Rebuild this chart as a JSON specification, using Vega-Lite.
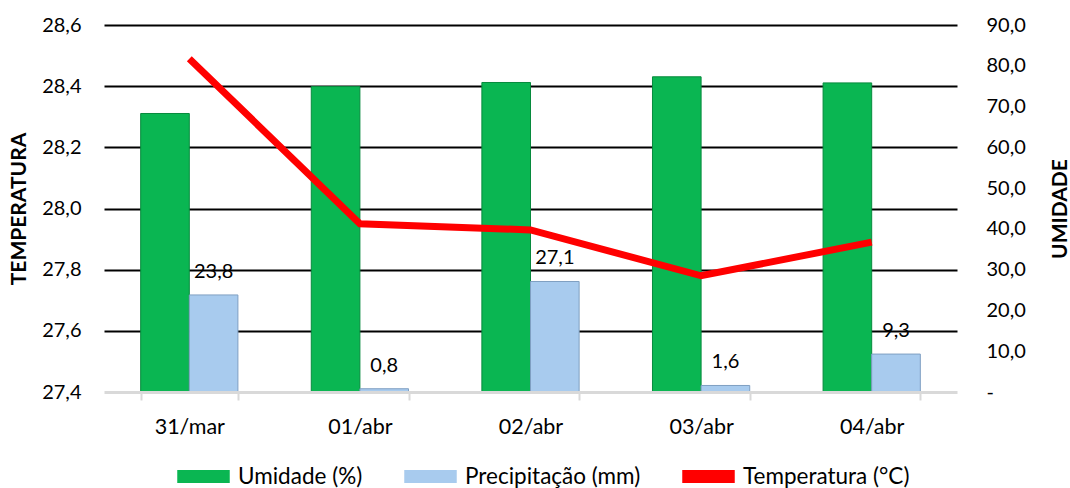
{
  "$schema": "https://vega.github.io/schema/vega-lite/v6.json",
  "autosize": {"type": "none"},
  "width": 853,
  "height": 367,
  "padding": {"left": 104, "top": 25, "right": 113, "bottom": 96},
  "background": "white",
  "config": {
    "font": "Lato",
    "view": {"stroke": null},
    "locale": {"number": {"decimal": ",", "thousands": ".", "grouping": [3], "currency": ["R$", ""]}},
    "axis": {"labelFont": "Lato", "labelFontSize": 20, "labelColor": "#000000", "titleFont": "Lato", "titleColor": "#000000"}
  },
  "data": {
    "values": [
      {"dia": "31/mar", "umidade": 68.3, "precipitacao": 23.8, "temperatura": 28.49},
      {"dia": "01/abr", "umidade": 74.9, "precipitacao": 0.8, "temperatura": 27.95},
      {"dia": "02/abr", "umidade": 75.9, "precipitacao": 27.1, "temperatura": 27.93},
      {"dia": "03/abr", "umidade": 77.3, "precipitacao": 1.6, "temperatura": 27.78},
      {"dia": "04/abr", "umidade": 75.8, "precipitacao": 9.3, "temperatura": 27.89}
    ]
  },
  "encoding": {
    "x": {
      "field": "dia",
      "type": "nominal",
      "sort": null,
      "scale": {"paddingInner": 0.43, "paddingOuter": 0.215},
      "axis": {
        "title": null,
        "labelAngle": 0,
        "labelFontSize": 21.5,
        "domainColor": "#d9d9d9",
        "domainWidth": 3,
        "ticks": true,
        "tickBand": "extent",
        "tickColor": "#d9d9d9",
        "tickWidth": 2,
        "tickSize": 8,
        "labelPadding": 16,
        "zindex": 1
      }
    }
  },
  "layer": [
    {
      "transform": [
        {"fold": ["umidade", "precipitacao"], "as": ["chave", "valor"]},
        {"lookup": "chave", "from": {"data": {"values": [
          {"chave": "umidade", "serie": "Umidade (%)"},
          {"chave": "precipitacao", "serie": "Precipitação (mm)"}
        ]}, "key": "chave", "fields": ["serie"]}}
      ],
      "encoding": {
        "y": {
          "field": "valor",
          "type": "quantitative",
          "scale": {"domain": [0, 90], "nice": false, "zero": true},
          "axis": {
            "orient": "right",
            "title": "UMIDADE",
            "titleFontSize": 21,
            "titleFontWeight": "bold",
            "titleAngle": 270,
            "titlePadding": 45,
            "values": [0, 10, 20, 30, 40, 50, 60, 70, 80, 90],
            "format": ".1f",
            "labelExpr": "datum.value == 0 ? '-' : datum.label",
            "labelAlign": "left",
            "labelPadding": 29,
            "ticks": false,
            "domain": false,
            "grid": false
          }
        },
        "xOffset": {
          "field": "serie",
          "type": "nominal",
          "scale": {"domain": ["Umidade (%)", "Precipitação (mm)"], "paddingInner": 0, "paddingOuter": 0}
        }
      },
      "layer": [
        {
          "mark": {"type": "bar", "strokeWidth": 1},
          "encoding": {
            "color": {
              "field": "serie",
              "type": "nominal",
              "scale": {
                "domain": ["Umidade (%)", "Precipitação (mm)", "Temperatura (°C)"],
                "range": ["#0ab652", "#a8cbee", "#ff0000"]
              },
              "legend": {
                "title": null,
                "orient": "none",
                "direction": "horizontal",
                "legendX": 73,
                "legendY": 425,
                "symbolType": "M-1,-0.25H1V0.25H-1Z",
                "symbolSize": 2756,
                "symbolStrokeWidth": 0,
                "symbolOpacity": 1,
                "labelFont": "Lato",
                "labelFontSize": 22.5,
                "labelColor": "#000000",
                "labelOffset": 8,
                "columnPadding": 41,
                "labelLimit": 300
              }
            },
            "stroke": {
              "field": "serie",
              "type": "nominal",
              "scale": {"domain": ["Umidade (%)", "Precipitação (mm)"], "range": ["#078a3d", "#7f9fc2"]},
              "legend": null
            }
          }
        },
        {
          "transform": [{"filter": "datum.chave == 'precipitacao'"}],
          "mark": {"type": "text", "fontSize": 20, "font": "Lato", "color": "#000000", "baseline": "alphabetic", "dy": -17},
          "encoding": {
            "text": {"field": "valor", "type": "quantitative", "format": ".1f"}
          }
        }
      ]
    },
    {
      "mark": {"type": "line", "strokeWidth": 7, "strokeCap": "butt"},
      "encoding": {
        "y": {
          "field": "temperatura",
          "type": "quantitative",
          "scale": {"domain": [27.4, 28.6], "nice": false, "zero": false},
          "axis": {
            "orient": "left",
            "title": "TEMPERATURA",
            "titleFontSize": 21,
            "titleFontWeight": "bold",
            "titlePadding": 12,
            "values": [27.4, 27.6, 27.8, 28.0, 28.2, 28.4, 28.6],
            "format": ".1f",
            "labelPadding": 23,
            "ticks": false,
            "domain": false,
            "grid": true,
            "gridColor": "#000000",
            "gridWidth": 2,
            "gridOpacity": {"condition": {"test": "datum.value < 27.5", "value": 0}, "value": 1}
          }
        },
        "color": {"datum": "Temperatura (°C)"}
      }
    }
  ],
  "resolve": {"scale": {"y": "independent", "stroke": "independent"}}
}
